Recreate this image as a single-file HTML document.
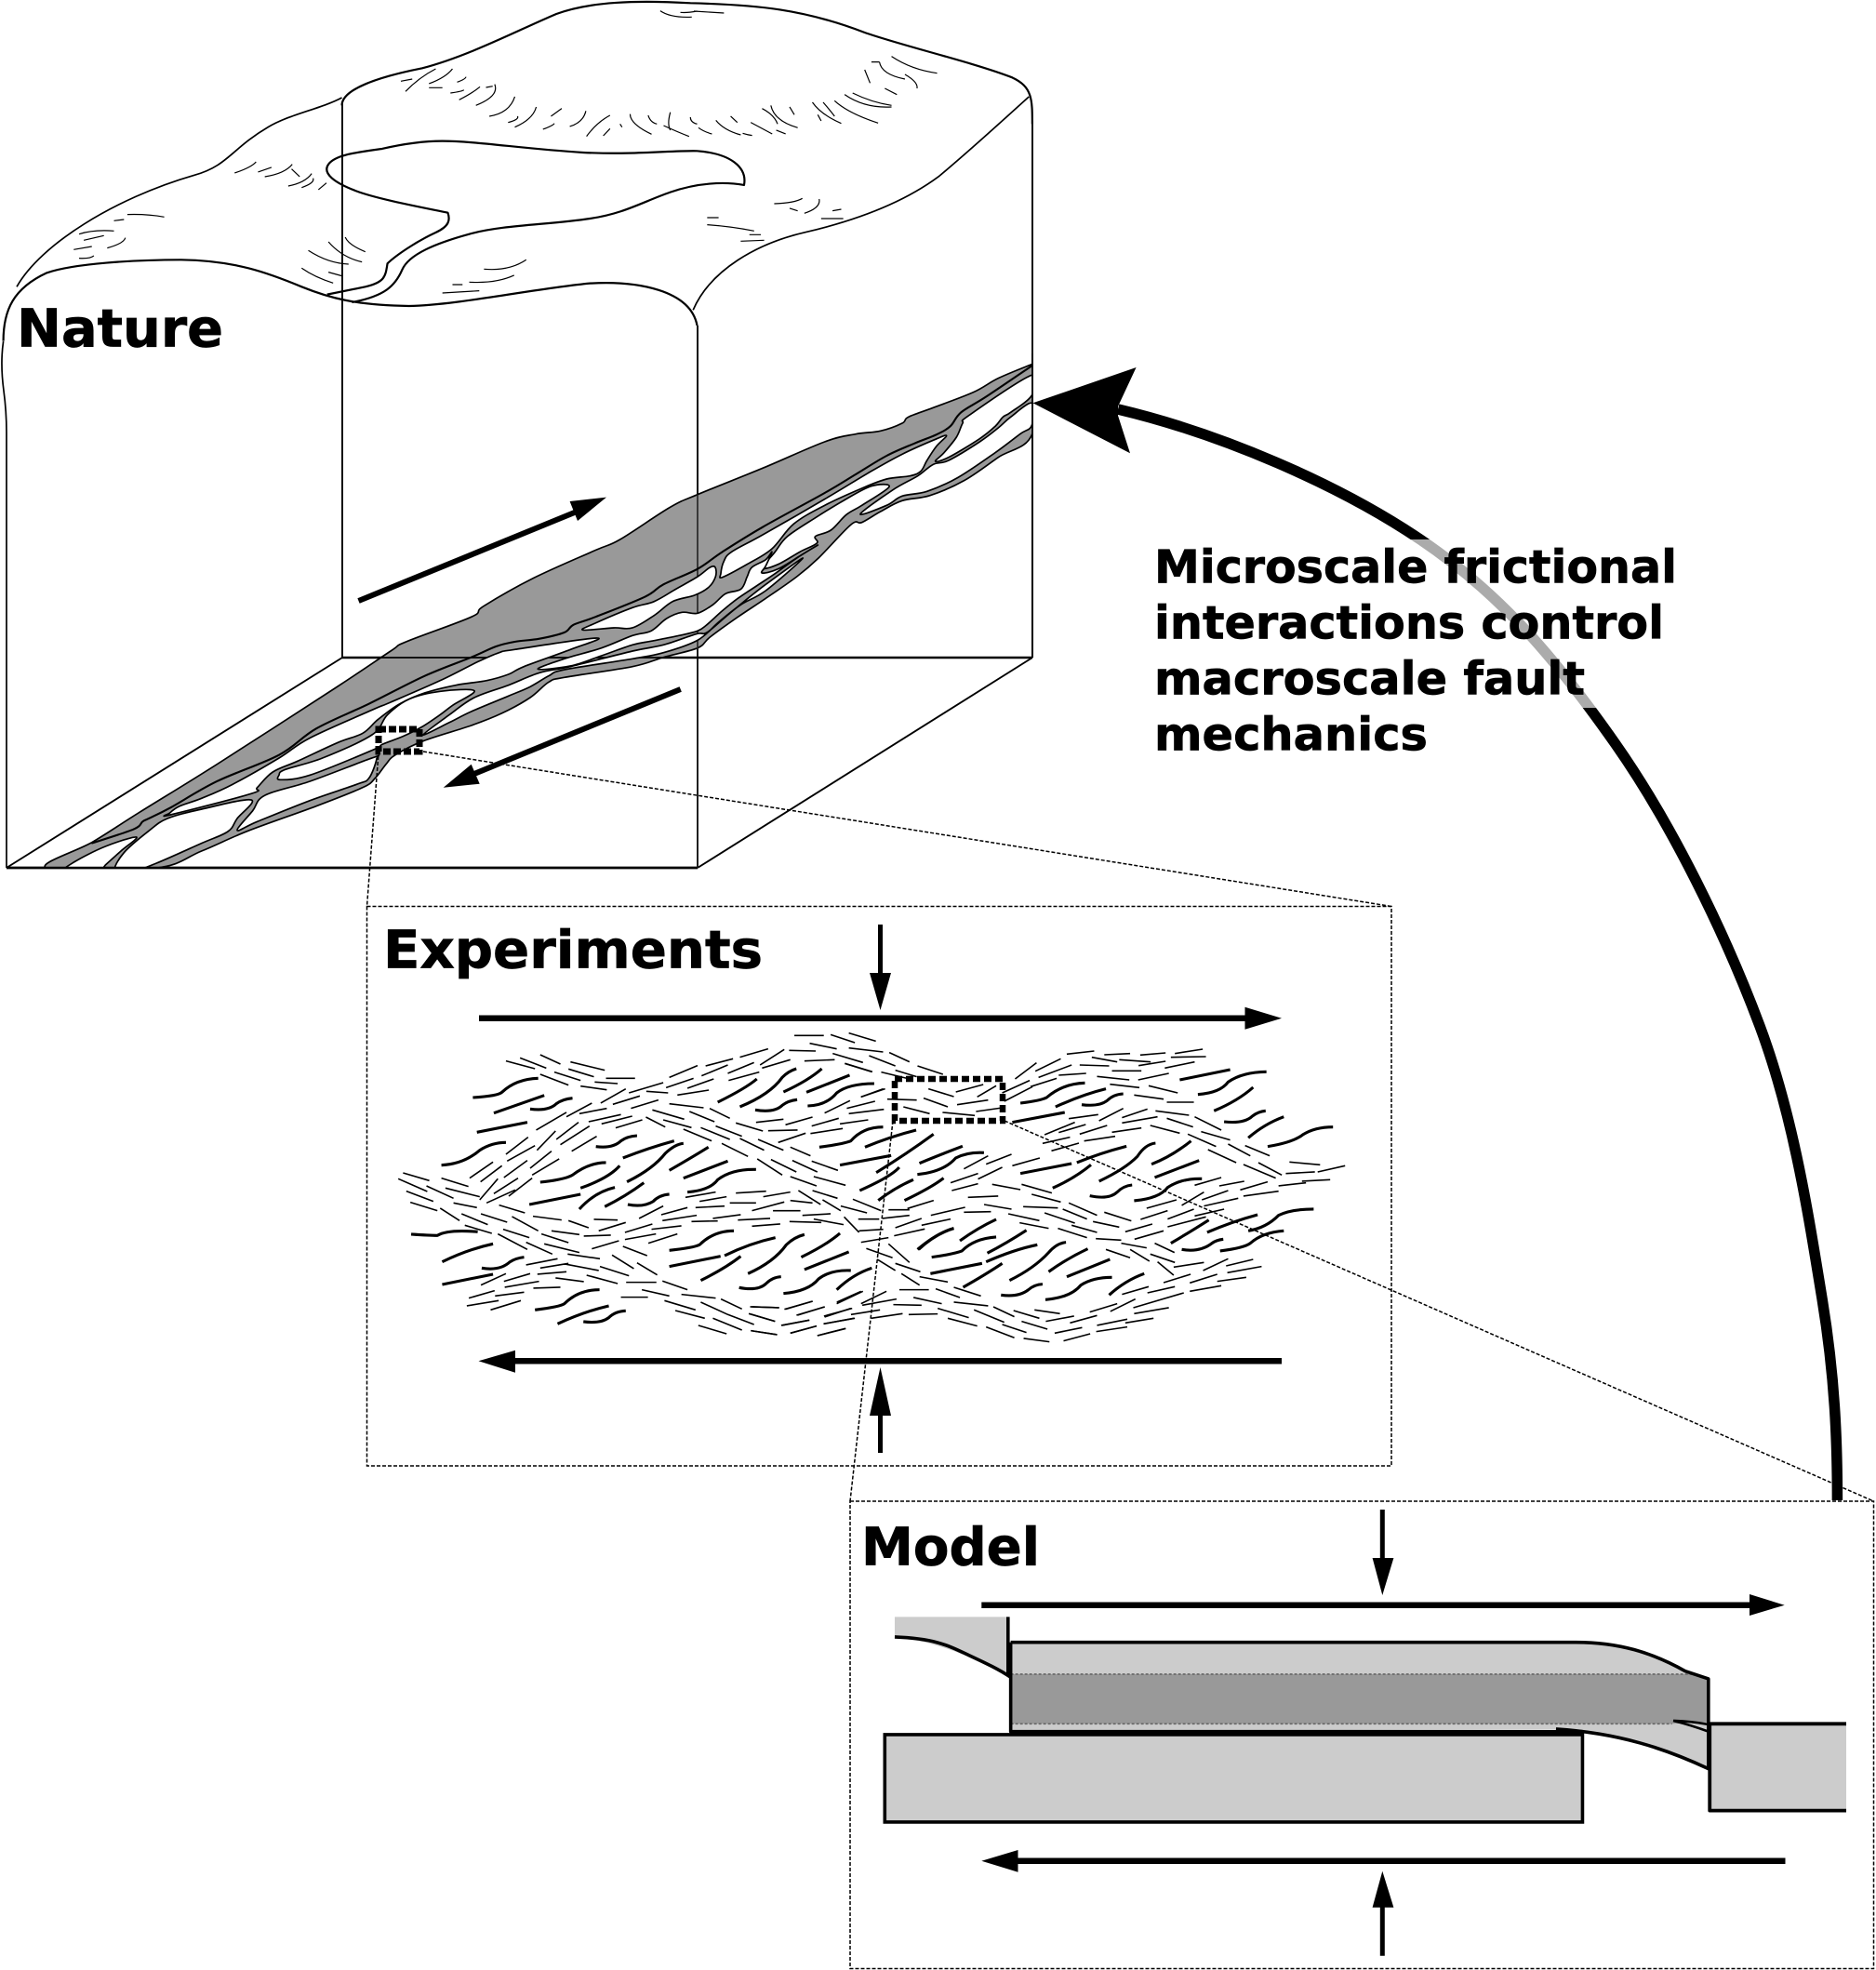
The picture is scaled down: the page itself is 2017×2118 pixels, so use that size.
<!DOCTYPE html>
<html><head><meta charset="utf-8"><style>
html,body{margin:0;padding:0;background:#fff}
svg{display:block}
path,line,rect,polygon,polyline{vector-effect:non-scaling-stroke}
text{font-family:"DejaVu Sans","Liberation Sans",sans-serif;font-weight:bold;fill:#000;stroke:#000;stroke-width:.7}
.t{fill:none;stroke:#000;stroke-linecap:butt;stroke-linejoin:round}
.h{fill:#fff;stroke:#000;stroke-width:1.7;stroke-linejoin:round}
</style></head><body>
<svg xmlns="http://www.w3.org/2000/svg" width="2017" height="2118" viewBox="0 0 2017 2118">
<defs><clipPath id="nc"><rect x="0" y="0" width="3330" height="2800"/></clipPath></defs>
<rect width="2017" height="2118" fill="#fff"/>

<!-- terrain -->
<g transform="scale(.7207,.3333)">
<path class="t" stroke-width="2.2" d="M5,1100 C5,1000 20,930 70,880 C110,850 200,838 270,838 C350,840 400,880 450,925 C490,960 530,985 610,987 C680,985 800,930 880,914 C950,905 1030,935 1040,1050"/>
<path class="t" stroke-width="1.7" d="M25,925 C60,790 170,640 290,565 C340,535 345,480 400,410 C430,370 480,350 510,315"/>
<path class="t" stroke-width="2.2" d="M510,340 C510,290 560,250 630,220 C700,180 770,100 830,45 C880,5 950,0 1030,10 C1130,15 1200,30 1290,105 C1350,150 1450,200 1510,250 C1540,280 1540,320 1540,400"/>
<path class="t" stroke-width="1.7" d="M1535,312 C1500,380 1450,480 1400,570 C1350,650 1280,710 1200,750 C1130,785 1060,870 1034,1000"/>
<path class="t" stroke-width="2.2" d="M488,950 L545,925 C575,910 575,890 578,850 C590,825 620,780 650,750 C670,730 672,710 668,686 C620,665 560,640 530,615 C500,590 480,560 490,530 C500,500 530,492 570,480 C600,465 630,455 660,455 C710,455 780,480 870,492 C950,500 1000,485 1040,487 C1090,495 1115,540 1110,597 C1080,585 1040,590 1000,620 C960,650 930,690 880,705 C820,725 750,725 700,755 C650,785 610,820 600,870 C590,920 575,955 525,975"/>
<path class="t" stroke-width="1.2" d="M985,35 Q1000,58 1032,55 M1015,40 Q1025,42 1040,36 M1035,36 L1080,42 M598,262 L615,255 M605,295 Q625,250 650,222 M640,270 Q665,250 675,222 M682,265 Q695,255 695,248 M640,283 L660,283 M672,300 Q690,295 692,290 M685,322 Q705,300 716,280 M725,282 L735,278 M710,340 Q745,310 738,272 M730,375 Q760,365 768,312 M758,395 Q775,385 772,375 M768,410 Q795,385 800,345 M810,417 Q825,405 827,398 M822,375 L838,350 M850,408 Q870,395 874,358 M875,440 Q890,395 910,372 M900,438 L910,415 M940,368 Q940,400 972,433 M925,400 L928,410 M967,372 Q970,395 980,400 M990,405 Q1010,425 1028,440 M1000,362 Q995,400 1000,420 M1030,378 Q1030,395 1040,400 M1042,412 Q1050,425 1062,432 M1090,375 L1100,395 M1068,388 Q1080,420 1105,435 M1108,430 Q1115,435 1122,437 M1120,395 L1152,432 M1158,420 L1172,432 M1137,350 Q1155,370 1160,400 M1150,340 Q1155,390 1190,412 M1178,345 L1185,370 M1212,330 Q1225,370 1255,398 M1220,370 L1225,390 M1228,330 Q1240,360 1245,375 M1245,325 Q1265,365 1310,397 M1260,305 Q1290,350 1330,345 M1272,300 Q1300,330 1330,340 M1320,285 L1338,305 M1290,225 L1298,268 M1300,200 L1312,200 M1312,200 Q1315,240 1350,255 M1350,240 Q1370,265 1368,285 M1330,182 Q1360,225 1398,236 M350,558 Q375,540 382,522 M395,570 Q425,560 436,530 M385,555 L405,540 M430,600 Q455,590 465,560 M450,605 Q470,590 467,575 M475,612 L487,590 M435,545 L447,570 M170,712 L185,708 M190,692 Q220,690 245,700 M118,755 Q140,740 170,745 M125,775 L155,760 M110,805 L137,795 M160,800 Q185,785 187,767 M118,833 Q135,835 140,825 M460,808 Q490,850 520,852 M490,780 Q510,830 540,845 M515,765 Q520,790 545,812 M450,865 Q470,895 497,913 M490,878 L510,890 M1155,657 Q1185,655 1197,640 M1178,672 L1190,680 M1200,688 Q1225,670 1222,642 M1225,705 L1258,705 M1242,680 L1255,675 M1055,702 L1072,702 M1055,725 Q1090,730 1125,745 M1118,757 L1135,757 M1105,778 L1140,775 M722,868 Q760,875 785,838 M700,910 Q740,915 767,888 M675,918 L690,918 M660,945 L715,938"/>
</g>
<path class="t" stroke-width="1.7" d="M3.6,367 C1,385 2,405 4,420 C6,435 7,450 7,465 L7,933"/>

<!-- box -->
<g class="t" stroke-width="1.9">
<path d="M368,110 L368,707 M1110,130 L1110,707 M750,350 L750,933"/>
<path d="M7,933 L368,707 M750,933 L1110,707"/>
<path stroke-width="2.4" d="M368,707 L1110,707 M7,933 L750,933"/>
</g>

<!-- fault network -->
<g transform="scale(.33333)" clip-path="url(#nc)" id="net">
<polygon fill="#999" stroke="#000" stroke-width="1.7" stroke-linejoin="round" points="150,2800 300,2715 450,2620 700,2465 1080,2220 1260,2100 1310,2070 1520,1990 1560,1955 1720,1865 1920,1775 2000,1740 2160,1637 2250,1595 2460,1510 2660,1425 2760,1400 2840,1390 2910,1365 2930,1345 3010,1315 3140,1265 3220,1220 3328,1175 3330,1175 3330,1398 3220,1475 3110,1550 3000,1598 2910,1615 2840,1650 2780,1685 2745,1692 2640,1800 2570,1860 2470,1930 2380,1990 2290,2055 2250,2090 2140,2120 2040,2150 1820,2185 1770,2200 1710,2250 1620,2300 1520,2340 1365,2390 1275,2435 1245,2465 1210,2510 1170,2540 1020,2600 800,2680 650,2745 500,2800"/>
<line x1="2250" y1="1595" x2="2250" y2="2799" stroke="#222" stroke-width="1.6"/>
<line x1="1104" y1="2121" x2="3330" y2="2121" stroke="#000" stroke-width="1.8"/>
<polyline fill="none" stroke="#000" stroke-width="2.1" stroke-linejoin="round" points="295,2720 430,2675 460,2650 480,2640 550,2605 700,2520 900,2435 1020,2350 1190,2270 1370,2180 1520,2120 1600,2085 1660,2070 1740,2060 1820,2040 1850,2015 1920,1990 2080,1925 2140,1885 2250,1835 2330,1780 2460,1700 2660,1590 2760,1530 2860,1470 2950,1430 3020,1402 3065,1375 3100,1330 3180,1280 3328,1180"/>
<!-- H_a -->
<polygon class="h" points="1925,2058 1840,2095 1690,2150 1640,2175 1570,2195 1470,2210 1370,2235 1290,2270 1220,2320 1170,2365 1090,2395 960,2455 880,2490 830,2540 810,2560 550,2628 548,2622 580,2600 650,2575 750,2530 900,2445 1000,2380 1200,2290 1260,2265 1420,2195 1540,2135 1610,2105 1660,2095"/>
<!-- H1 -->
<polygon class="h" points="3328,1210 3125,1340 3105,1365 3085,1410 3045,1460 3017,1488 3060,1475 3160,1415 3210,1375 3235,1345 3260,1330 3328,1275"/>
<!-- H2 -->
<polygon class="h" points="3053,1405 3010,1420 2910,1465 2810,1520 2660,1610 2460,1725 2360,1780 2335,1810 2325,1850 2330,1862 2410,1820 2490,1770 2560,1690 2660,1630 2780,1575 2860,1545 2935,1535 2970,1520 2990,1485 3020,1440"/>
<!-- H3 -->
<polygon class="h" points="2868,1570 2810,1568 2720,1615 2630,1670 2540,1730 2500,1780 2460,1832 2510,1820 2580,1780 2635,1752 2630,1730 2680,1710 2730,1660 2780,1630"/>
<!-- H4 -->
<polygon class="h" points="3328,1300 3260,1345 3220,1380 3160,1425 3060,1485 3010,1498 2960,1535 2880,1580 2775,1658 2860,1630 2910,1600 2990,1585 3090,1540 3210,1460 3290,1400 3328,1372"/>
<!-- H6 -->
<polygon class="h" points="2307,1830 2290,1830 2250,1860 2180,1900 2110,1940 2040,1960 1920,2010 1880,2032 1980,2025 2040,2025 2110,1985 2170,1940 2240,1920 2285,1895 2308,1860"/>
<!-- row2 -->
<polygon class="h" points="2040,2050 2100,2035 2150,1995 2200,1975 2250,1978 2300,1950 2340,1915 2390,1900 2410,1860 2425,1830 2470,1805 2490,1780 2470,1825 2458,1848 2510,1835 2585,1790 2638,1758 2570,1800 2500,1850 2440,1890 2380,1930 2330,1970 2280,2015 2250,2035 2190,2050 2100,2068 2040,2080 1940,2115 1840,2148 1735,2158 1820,2125 1940,2090"/>
<!-- row3 -->
<polygon class="h" points="2590,1800 2470,1905 2390,1950 2320,2005 2250,2065 2140,2105 2040,2125 1820,2160 1770,2180 1710,2215 1640,2245 1520,2295 1450,2330 1365,2370 1450,2305 1530,2250 1640,2210 1740,2170 1840,2150 2040,2100 2140,2080 2245,2045 2280,2040 2340,1990 2400,1940 2470,1885"/>
<!-- H_d -->
<polygon class="h" points="1530,2228 1420,2230 1320,2255 1250,2305 1200,2370 1040,2445 920,2482 900,2500 905,2515 1000,2500 1200,2420 1235,2400 1300,2375 1360,2345 1420,2305 1460,2275"/>
<!-- H_e -->
<polygon class="h" points="1215,2447 1200,2445 1000,2520 855,2565 815,2615 765,2678 830,2650 1000,2582 1150,2530 1190,2510"/>
<!-- W1 W2 -->
<polygon class="h" points="210,2810 240,2780 340,2730 440,2700 390,2745 340,2790 320,2810"/>
<polygon class="h" points="370,2810 400,2750 480,2680 540,2640 650,2610 810,2580 765,2640 735,2682 650,2720 510,2782 430,2810"/>
</g>
<line x1="1110" y1="380" x2="1110" y2="707" stroke="#000" stroke-width="1.9"/>
<line x1="7" y1="933" x2="750" y2="933" stroke="#000" stroke-width="2.4"/>

<!-- fault arrows -->
<line x1="385.5" y1="646" x2="625" y2="548" stroke="#000" stroke-width="6"/>
<polygon points="652,534.6 612.6,539 621,560"/>
<line x1="731.7" y1="741" x2="505" y2="834" stroke="#000" stroke-width="6"/>
<polygon points="476.7,846.7 506.7,821.7 515.7,842.7"/>

<!-- zoom boxes -->
<rect x="407" y="784" width="44" height="24" fill="none" stroke="#000" stroke-width="7" stroke-dasharray="8 3"/>
<g fill="none" stroke="#000" stroke-width="1.5" stroke-dasharray="4 2">
<rect x="394.5" y="974.5" width="1101.5" height="601.5"/>
<path d="M406.7,813 L394.5,974.5 M455,808 L1496,974.5"/>
<rect x="914" y="1614" width="1100.5" height="502.5"/>
<path d="M960,1205 L914,1614 M1080,1205 L2014.5,1614"/>
</g>
<rect x="962" y="1160" width="116" height="45" fill="none" stroke="#000" stroke-width="6.5" stroke-dasharray="8 4"/>

<!-- gouge -->
<g transform="translate(390,1080) scale(.4337,.3333)">
<path class="t" stroke-width="1.6" d="M355,182 427,207M390,172 455,205M440,162 490,192M515,185 600,212M510,208 573,233M475,218 540,245M440,225 510,260M575,250 632,255M540,263 605,275M603,238 675,238M590,318 652,272M660,285 745,252M703,280 757,285M620,322 687,295M752,268 820,238M780,292 858,276M805,270 870,240M665,335 733,308M760,235 830,197M840,230 905,195M850,198 918,175M905,222 970,187M907,245 983,218M935,170 1005,143M985,195 1045,145M990,205 1060,178M1070,100 1143,100M1160,97 1220,123M1205,92 1272,118M1108,125 1175,143M1057,148 1123,150M1095,182 1170,178M1165,158 1240,187M1205,140 1290,153M1195,190 1262,217M505,362 568,318M537,352 605,335M560,378 640,355M592,385 668,360M627,398 693,372M430,405 505,348M480,435 535,380M490,452 562,392M518,473 580,425M432,470 478,408M355,483 410,428M358,505 427,455M265,560 323,508M292,572 345,520M350,558 408,503M415,528 468,473M420,550 487,498M290,630 335,562M325,610 385,560M362,618 420,560M307,640 378,598M702,363 750,395M745,372 815,397M718,340 797,370M760,320 845,333M860,335 910,367M810,345 872,378M795,402 865,440M838,397 910,435M875,392 940,425M925,382 992,408M890,448 955,490M935,432 995,470M980,435 1043,470M1060,460 1110,488M1030,445 1098,415M975,380 1043,370M1005,407 1078,405M1048,388 1115,363M1113,392 1180,367M1110,416 1190,400M1183,385 1253,372M1145,350 1208,310M1205,352 1292,338M1200,335 1270,312M1235,298 1295,272M978,498 1040,550M1012,500 1075,540M1065,503 1127,540M1113,505 1178,535M1060,555 1125,585M1118,555 1197,583M1115,600 1177,625M1080,600 1135,645M1140,630 1185,665M1185,650 1250,672M1215,628 1285,665M800,622 875,605M925,608 1000,602M835,635 902,620M825,655 897,650M910,640 975,640M993,620 1060,605M965,665 1045,637M1060,632 1115,640M1017,665 1085,665M1090,680 1160,675M1118,692 1192,710M1058,700 1137,703M965,715 1035,708M930,695 1010,690M868,690 937,678M815,700 880,698M743,697 828,680M740,678 805,655M685,690 745,650M100,543 165,568M88,562 160,603M195,560 262,587M205,592 290,620M158,585 225,625M108,602 175,635M118,638 185,665M225,640 283,655M192,657 240,697M245,675 310,710M293,675 358,702M338,647 402,672M370,684 435,730M422,683 493,695M253,712 320,738M348,725 413,752M335,740 408,790M405,767 470,805M443,740 510,768M450,772 537,800M508,805 588,820M468,730 537,742M510,697 560,720M573,693 632,695M585,730 652,703M548,747 615,744M650,735 718,708M716,725 790,714M650,758 727,740M568,788 635,762M708,770 780,740M645,780 705,810M618,808 672,852M680,833 730,872M588,845 660,875M505,838 585,858M405,840 483,820M440,850 510,835M433,870 505,862M478,882 548,894M555,873 632,900M653,896 728,896M743,892 805,920M350,893 415,868M352,912 437,893M293,905 355,868M423,915 490,912M263,947 327,923M328,940 400,928M258,972 337,955M317,985 392,955M640,944 707,944M692,920 760,940M790,935 875,947M888,950 940,982M748,955 825,985M838,960 905,1000M775,987 848,1012M905,1000 970,1032M868,1012 940,1050M957,997 1022,1022M832,1035 902,1062M962,1052 1027,1065M965,975 1032,978M1048,983 1115,957M1078,1002 1145,975M1145,1008 1210,980M1040,1035 1107,1018M1060,1060 1125,1037M1143,1030 1220,1012M1127,1068 1197,1045M1175,965 1240,925"/>
<path class="t" stroke-width="3.1" d="M273,300 Q335,295 345,283 Q380,240 435,238M325,350 L450,293M415,337 Q460,345 480,320 Q495,305 520,302M283,412 L408,380M195,518 Q250,515 290,470 Q320,445 355,445M578,458 Q620,465 640,440 Q655,425 680,423M440,573 Q500,565 520,550 Q560,510 603,510M540,592 Q610,560 637,520M645,495 Q710,462 772,440M655,572 Q720,530 750,480 Q775,450 795,448M760,535 Q820,490 857,460M795,560 L905,505M805,605 Q860,600 880,565 Q915,530 975,532M413,645 L540,612M537,660 Q575,605 625,590M600,652 Q650,620 697,575M657,645 Q695,655 720,635 Q735,615 760,612M120,741 Q165,745 185,745 Q210,725 285,733M197,830 Q260,790 323,772M295,850 Q340,860 365,830 Q380,818 400,815M197,903 L323,870M427,985 Q490,975 500,965 Q535,920 587,920M483,1030 Q550,990 610,972M547,1023 Q590,1030 610,1010 Q625,990 652,988M760,793 Q820,785 835,775 Q870,730 920,730M897,810 Q960,770 1023,752M760,845 L887,812M955,868 Q1020,830 1050,775 Q1070,750 1095,742M838,890 Q900,850 937,812M1087,815 Q1150,775 1183,738M1095,855 L1205,798M933,913 Q980,925 1000,900 Q1015,880 1037,878M1043,932 Q1105,925 1130,885 Q1160,855 1210,858M1175,920 Q1215,870 1262,850M880,315 Q950,270 977,240M935,330 Q1010,290 1040,235 Q1055,215 1075,207M1043,282 Q1105,245 1138,207M1100,283 L1207,228M973,340 Q1020,350 1040,325 Q1055,310 1077,307M1103,327 Q1150,325 1175,285 Q1205,255 1268,255M1132,460 Q1190,450 1210,440 Q1240,395 1290,395M1183,518 L1310,487M1245,460 Q1310,425 1372,405M1273,542 Q1350,480 1415,418M1232,600 Q1310,555 1330,525M1278,632 Q1320,590 1365,565M1343,632 Q1410,590 1440,560M1380,512 Q1440,480 1487,457M1375,548 Q1440,540 1470,495 Q1500,475 1540,478M1378,790 Q1420,740 1465,722"/>
</g>
<g transform="translate(800,1080) scale(.4337,.3333)">
<path class="t" stroke-width="3.1" d="M665,380 L795,348M685,318 Q735,310 750,300 Q790,255 845,253M772,330 Q840,290 897,272M837,323 Q880,330 900,310 Q915,290 940,288M1080,243 L1205,210M1125,290 Q1180,285 1200,250 Q1235,218 1295,217M1165,343 Q1225,310 1262,267M1190,378 Q1240,385 1260,360 Q1275,345 1293,343M1250,430 Q1290,385 1338,362M1298,458 Q1360,445 1385,420 Q1415,395 1460,395M825,510 Q880,480 948,457M880,570 Q945,530 975,490 Q995,450 1020,447M1010,515 Q1060,490 1108,440M1018,558 L1128,503M857,617 Q905,630 925,605 Q940,585 962,582M967,633 Q1030,625 1050,590 Q1085,560 1135,562M765,592 Q820,560 860,517M685,545 L812,513M430,790 Q480,735 520,722M535,762 Q580,720 625,693M465,815 Q520,805 540,795 Q570,755 625,750M603,802 Q650,770 700,728M600,830 Q670,790 727,775M462,868 L590,835M658,890 Q720,850 755,800 Q775,770 798,767M543,912 Q600,870 640,835M755,862 Q800,820 852,788M800,878 L907,822M637,937 Q680,945 705,920 Q720,903 740,902M747,952 Q810,945 835,905 Q865,880 912,880M905,937 Q945,890 992,868M1058,770 Q1110,730 1152,695M1148,735 Q1210,700 1273,678M1250,730 Q1295,720 1325,680 Q1355,660 1412,660M1085,790 Q1130,800 1160,770 Q1170,760 1188,757M1180,795 Q1240,785 1255,770 Q1285,735 1338,730"/>
<path class="t" stroke-width="1.6" d="M375,212 428,233M430,198 493,225M310,165 375,198M360,155 410,185M250,190 318,217M290,298 345,272M340,218 410,240M525,282 593,258M457,272 520,297M445,302 505,330M528,323 605,308M355,305 428,308M395,330 460,352M492,348 572,358M575,345 640,333M578,298 625,262M672,240 725,188M722,215 785,175M730,235 812,195M780,228 848,222M640,285 708,245M645,312 715,265M710,265 775,238M800,160 868,150M862,170 925,185M893,162 957,158M982,163 1045,156M1068,158 1137,144M930,178 1008,185M1058,170 1145,168M978,197 1045,183M1043,205 1117,185M832,195 905,198M912,214 985,214M875,232 955,243M977,243 1053,222M907,257 980,268M1003,262 1075,285M967,292 1040,305M1048,315 1115,315M805,368 878,355M880,375 940,335M937,365 1000,337M937,382 1025,362M1020,343 1103,357M1048,367 1113,395M1117,362 1183,405M1133,410 1205,437M912,412 985,398M832,418 900,390M780,413 847,387M745,420 820,380M740,448 808,428M843,440 920,425M762,472 830,447M1007,390 1080,415M1100,418 1170,458M1200,450 1255,488M1242,455 1303,488M1150,468 1220,510M1238,516 1318,560M1275,510 1333,550M1352,508 1428,517M1343,545 1415,540M1422,540 1490,520M1383,570 1453,565M1325,585 1393,575M1230,598 1298,572M1238,618 1325,602M1178,585 1240,570M1117,583 1183,558M1135,630 1200,600M1140,650 1225,625M1085,648 1140,605M998,657 1072,630M1117,682 1190,660M1050,692 1115,660M983,693 1050,665M1050,717 1145,685M945,733 1012,708M968,757 1040,730M893,670 960,698M865,700 930,718M805,640 875,680M790,660 850,692M745,672 820,705M683,704 755,722M655,675 732,697M778,722 850,752M812,712 875,735M872,755 935,760M935,770 998,785M1018,770 1067,800M897,790 957,817M957,790 1005,828M1007,805 1068,832M1025,830 1065,873M1065,847 1140,832M1138,858 1200,820M1195,843 1262,822M1198,865 1283,845M1173,893 1245,880M1105,898 1173,870M1040,897 1107,870M1105,925 1183,907M1000,930 1068,910M937,935 1003,910M965,978 1090,930M967,997 1053,978M908,990 970,950M857,992 925,965M945,1027 1015,1012M875,1035 950,1015M808,1027 875,1003M770,1060 838,1042M792,1085 858,1062M873,1055 950,1040M748,1022 818,1005M720,985 783,997M668,987 732,1012M688,1022 752,1047M618,975 670,1007M570,985 645,1025M600,1040 670,1075M693,1077 757,1088M640,1032 700,1058M520,960 605,972M480,980 557,1010M505,1012 578,1037M420,945 490,965M520,912 587,940M475,917 535,945M385,920 458,920M370,968 440,970M408,1000 480,998M315,1012 393,997M435,878 505,895M390,868 435,905M375,835 437,862M330,822 375,858M358,772 410,832M303,787 368,817M290,767 358,752M372,746 448,724M375,720 440,690M440,712 512,692M285,730 345,725M283,692 335,692M343,690 410,680M248,685 285,735M358,662 410,662M405,658 470,632M463,680 548,654M515,600 580,578M512,575 580,545M580,563 640,525M545,530 605,488M600,515 663,483M665,520 733,495M615,580 685,597M688,580 763,608M713,612 785,637M555,622 630,618M595,645 663,660M545,670 612,668M692,652 778,656M230,960 290,925M290,965 353,925M293,970 378,950M265,1000 337,985M197,1030 272,1012M182,1068 252,1045M115,1060 180,1037M92,1035 162,1018M130,1002 200,975M100,983 170,957M198,1005 268,980M15,975 87,978M15,998 77,1022M17,1052 82,1065"/>
</g>

<!-- experiment arrows -->
<line x1="515" y1="1094.7" x2="1345" y2="1094.7" stroke="#000" stroke-width="6.5"/>
<polygon points="1378,1094.7 1338.5,1082.7 1338.5,1106.7"/>
<line x1="946.5" y1="994" x2="946.5" y2="1050" stroke="#000" stroke-width="5"/>
<polygon points="935,1046 958,1046 946.5,1086"/>
<line x1="548" y1="1463.3" x2="1378" y2="1463.3" stroke="#000" stroke-width="6.5"/>
<polygon points="514.5,1463.3 554,1451.7 554,1475.7"/>
<line x1="946.5" y1="1518" x2="946.5" y2="1562" stroke="#000" stroke-width="5"/>
<polygon points="935,1522 958,1522 946.5,1470"/>

<!-- model -->
<g transform="translate(900,1600) scale(.7124,.3333)">
<path fill="#ccc" d="M87,415 L258,415 L262,610 C200,540 150,495 87,480 Z"/>
<path fill="#ccc" d="M262,497 L1115,497 C1180,497 1230,530 1280,590 L1315,615 L1315,905 C1250,840 1180,790 1085,777 L262,785 Z"/>
<path fill="#999" d="M262,600 L1300,600 L1315,615 L1315,755 L1260,760 L262,760 Z"/>
<path fill="none" stroke="#666" stroke-width="1.6" stroke-dasharray="3 2" d="M262,600 L1300,600 M262,760 L1260,760"/>
<path class="t" stroke-width="3.6" d="M87,480 C150,485 170,510 200,540 C225,565 245,585 262,610"/>
<path class="t" stroke-width="3.6" d="M258,415 L258,600 M262,497 L262,785 L1125,785"/>
<path class="t" stroke-width="3.6" d="M262,497 L1115,497 C1180,497 1230,530 1280,590 L1315,615 L1315,905 C1250,840 1180,790 1085,777"/>
<path class="t" stroke-width="2.6" d="M1262,750 Q1290,752 1315,762 M1262,750 Q1290,765 1315,785"/>
<rect x="72" y="795" width="1053" height="282" fill="#ccc" stroke="#000" stroke-width="3.6"/>
<path d="M1317,760 L1523,760 L1523,1040 L1317,1040 Z" fill="#ccc"/>
<path class="t" stroke-width="3.8" d="M1523,760 L1317,760 L1317,1040 L1523,1040"/>
</g>
<line x1="1055.3" y1="1725.7" x2="1885" y2="1725.7" stroke="#000" stroke-width="6.5"/>
<polygon points="1918.7,1725.7 1881,1714 1881,1737"/>
<line x1="1486.3" y1="1623" x2="1486.3" y2="1680" stroke="#000" stroke-width="5"/>
<polygon points="1475.6,1675 1498.4,1675 1486.3,1715"/>
<line x1="1090" y1="2000.7" x2="1919.5" y2="2000.7" stroke="#000" stroke-width="6.5"/>
<polygon points="1055.3,2000.7 1094.5,1989 1094.5,2012.7"/>
<line x1="1486.3" y1="2047" x2="1486.3" y2="2102.7" stroke="#000" stroke-width="5"/>
<polygon points="1475.6,2050.7 1498.4,2050.7 1486.3,2011.7"/>

<!-- big curved arrow -->
<path fill="none" stroke="#000" stroke-width="11.5" d="M1202,440 C1312,466 1438,520 1527,580 C1616,640 1676,713 1737,800 C1798,887 1855,1004 1892,1103 C1929,1202 1945,1311 1959,1396 C1973,1481 1975.4,1550 1975.4,1613"/>
<polygon points="1110.5,433.3 1221.6,395 1202,437 1202,446.7 1215,487.3"/>
<rect x="1240" y="580" width="575" height="181" fill="#fff" fill-opacity=".67"/>

<!-- labels -->
<text x="18" y="372.7" font-size="56" textLength="222" lengthAdjust="spacingAndGlyphs">Nature</text>
<text x="412" y="1040.7" font-size="56" textLength="408" lengthAdjust="spacingAndGlyphs">Experiments</text>
<text x="926" y="1682.7" font-size="56" textLength="192" lengthAdjust="spacingAndGlyphs">Model</text>
<text x="1241" y="626.7" font-size="48.8" textLength="562" lengthAdjust="spacingAndGlyphs">Microscale frictional</text>
<text x="1241" y="686.7" font-size="48.8" textLength="548" lengthAdjust="spacingAndGlyphs">interactions control</text>
<text x="1241" y="746.7" font-size="48.8" textLength="463" lengthAdjust="spacingAndGlyphs">macroscale fault</text>
<text x="1241" y="806.7" font-size="48.8" textLength="294" lengthAdjust="spacingAndGlyphs">mechanics</text>
</svg>
<script>
(function(){
var k=0.17,g=document.getElementById('net');
g.querySelectorAll('polygon,polyline').forEach(function(e){
var n=e.getAttribute('points').trim().split(/\s+/).map(function(s){return s.split(',').map(Number)});
var c=e.tagName==='polygon',m=n.length,d='M'+n[0];
var at=function(i){return c?n[(i+m)%m]:n[Math.max(0,Math.min(m-1,i))]};
for(var i=0;i<(c?m:m-1);i++){
var p0=at(i-1),p1=at(i),p2=at(i+1),p3=at(i+2);
d+='C'+(p1[0]+(p2[0]-p0[0])*k)+','+(p1[1]+(p2[1]-p0[1])*k)+' '+(p2[0]-(p3[0]-p1[0])*k)+','+(p2[1]-(p3[1]-p1[1])*k)+' '+p2[0]+','+p2[1];}
if(c)d+='Z';
var q=document.createElementNS('http://www.w3.org/2000/svg','path');
['class','fill','stroke','stroke-width','stroke-linejoin'].forEach(function(a){if(e.hasAttribute(a))q.setAttribute(a,e.getAttribute(a))});
q.setAttribute('d',d);e.parentNode.replaceChild(q,e);});
})();
</script>
</body></html>
